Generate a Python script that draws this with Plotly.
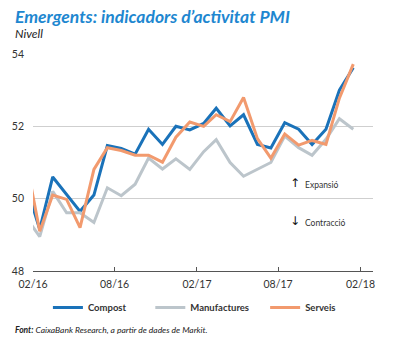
import pandas as pd
import plotly.graph_objects as go

months = ["2016-01", "2016-02", "2016-03", "2016-04", "2016-05", "2016-06", "2016-07",
          "2016-08", "2016-09", "2016-10", "2016-11", "2016-12", "2017-01", "2017-02",
          "2017-03", "2017-04", "2017-05", "2017-06", "2017-07", "2017-08", "2017-09",
          "2017-10", "2017-11", "2017-12", "2018-01"]

compost = [50.4, 49.15, 50.6, 50.1, 49.65, 50.1, 51.47, 51.39, 51.23, 51.92, 51.5, 52.0,
           51.9, 52.08, 52.5, 52.01, 52.32, 51.5, 51.4, 52.1, 51.92, 51.5, 51.92, 53.0, 53.62]
manufactures = [49.5, 48.95, 50.2, 49.61, 49.61, 49.34, 50.3, 50.08, 50.4, 51.12, 50.82, 51.1,
                50.81, 51.3, 51.63, 51.0, 50.62, 50.81, 51.0, 51.73, 51.41, 51.2, 51.64, 52.21, 51.92]
serveis = [51.1, 49.1, 50.1, 49.98, 49.2, 50.81, 51.41, 51.33, 51.2, 51.2, 51.01, 51.7,
           52.12, 52.0, 52.32, 52.13, 52.8, 51.66, 51.12, 51.79, 51.48, 51.61, 51.5, 52.78, 53.72]

tick_dates = ["2016-02-01", "2016-08-01", "2017-02-01", "2017-08-01", "2018-02-01"]
tick_labels = ["02/16", "08/16", "02/17", "08/17", "02/18"]
y_ticks = [48, 50, 52, 54]

x = pd.to_datetime(months) + pd.Timedelta(days=15)

FONT = "Lato"
NARROW = "Liberation Sans Narrow, Lato"
TXT = "#333333"

series = [
    ("Compost", compost, "#1a72b9", "legend"),
    ("Manufactures", manufactures, "#bcc5cb", "legend2"),
    ("Serveis", serveis, "#f29a6e", "legend3"),
]

fig = go.Figure()
for name, vals, col, lg in series:
    fig.add_trace(go.Scatter(
        x=x, y=vals, mode="lines", name=name, legend=lg,
        line=dict(color=col, width=3),
    ))

legend_common = dict(orientation="h", yanchor="middle", xanchor="left",
                     font=dict(family=FONT, size=9.5, color=TXT, weight="bold"),
                     bgcolor="rgba(0,0,0,0)", itemwidth=30, tracegroupgap=0)

PX = lambda px: (px - 31) / 342
PY = lambda py: (271 - py) / 217

fig.update_layout(
    width=396, height=338,
    margin=dict(l=31, r=23, t=54, b=67),
    paper_bgcolor="white", plot_bgcolor="white",
    showlegend=True,
    legend=dict(x=PX(46), y=PY(307.5), **legend_common),
    legend2=dict(x=PX(149), y=PY(307.5), **legend_common),
    legend3=dict(x=PX(264.5), y=PY(307.5), **legend_common),
    xaxis=dict(
        type="date", range=["2016-02-01", "2018-03-01"],
        tickvals=tick_dates, ticktext=tick_labels,
        showgrid=False, showline=True, linecolor="#555555", linewidth=1,
        ticks="inside", ticklen=4, tickcolor="#555555",
        tickfont=dict(family=FONT, size=10.5, color=TXT),
        ticklabelstandoff=3,
    ),
    yaxis=dict(
        range=[48, 54], tickvals=y_ticks,
        showgrid=True, gridcolor="#cfcfcf", gridwidth=1,
        zeroline=False, showline=False, ticks="",
        tickfont=dict(family=FONT, size=10.5, color=TXT),
        ticklabelstandoff=8,
    ),
    annotations=[
        dict(text="<b><i>Emergents: indicadors d’activitat PMI</i></b>", xref="paper", yref="paper",
             x=PX(11), y=PY(16), xanchor="left", yanchor="middle",
             font=dict(family=FONT, size=17.5, color="#1e87d0"), showarrow=False),
        dict(text="<i>Nivell</i>", xref="paper", yref="paper", x=PX(11), y=PY(33),
             xanchor="left", yanchor="middle", font=dict(family=FONT, size=12, color="#222222"),
             showarrow=False),
        dict(text="↑", xref="paper", yref="paper", x=PX(295), y=PY(183),
             xanchor="center", yanchor="middle", font=dict(family="DejaVu Sans", size=12, color="#111111"),
             showarrow=False),
        dict(text="Expansió", xref="paper", yref="paper", x=PX(303), y=PY(184.5),
             xanchor="left", yanchor="middle", font=dict(family=NARROW, size=8.5, color=TXT),
             showarrow=False),
        dict(text="↓", xref="paper", yref="paper", x=PX(295), y=PY(221),
             xanchor="center", yanchor="middle", font=dict(family="DejaVu Sans", size=12, color="#111111"),
             showarrow=False),
        dict(text="Contracció", xref="paper", yref="paper", x=PX(303), y=PY(222.5),
             xanchor="left", yanchor="middle", font=dict(family=NARROW, size=8.5, color=TXT),
             showarrow=False),
        dict(text="<b><i>Font:</i></b><i> CaixaBank Research, a partir de dades de Markit.</i>",
             xref="paper", yref="paper", x=PX(11), y=PY(330),
             xanchor="left", yanchor="middle", font=dict(family=FONT, size=8.5, color="#222222"),
             showarrow=False),
    ],
)

fig.write_html("out.html")
